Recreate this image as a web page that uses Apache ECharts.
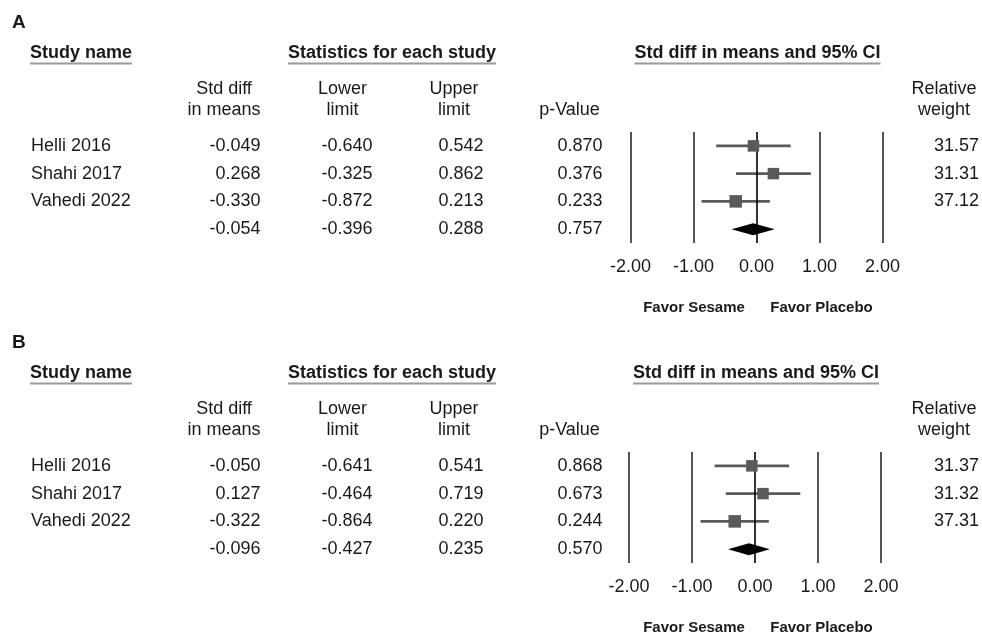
<!DOCTYPE html>
<html>
<head>
<meta charset="utf-8">
<script src="https://cdn.jsdelivr.net/npm/echarts@6/dist/echarts.min.js"></script>
<style>
  html, body { margin: 0; padding: 0; background: #ffffff; }
  #chart { width: 982px; height: 635px; }
</style>
</head>
<body>
<div id="chart"></div>
<script>
// ---- Study data ----
const studies = ['Helli 2016', 'Shahi 2017', 'Vahedi 2022'];

// Panel A
const smdA = [-0.049, 0.268, -0.330];
const lowA = [-0.640, -0.325, -0.872];
const upA = [0.542, 0.862, 0.213];
const pA = [0.870, 0.376, 0.233];
const weightA = [31.57, 31.31, 37.12];
const pooledA = [-0.054, -0.396, 0.288, 0.757]; // smd, lower, upper, p

// Panel B
const smdB = [-0.050, 0.127, -0.322];
const lowB = [-0.641, -0.464, -0.864];
const upB = [0.541, 0.719, 0.220];
const pB = [0.868, 0.673, 0.244];
const weightB = [31.37, 31.32, 37.31];
const pooledB = [-0.096, -0.427, 0.235, 0.570];

const xTicks = [-2, -1, 0, 1, 2];
const favorLabels = ['Favor Sesame', 'Favor Placebo'];

// ---- Styling ----
const FONT = "'Liberation Sans', Arial, Helvetica, sans-serif";
const INK = '#1a1a1a';
const MARK = '#5a5a5a';
const RULE = '#555555';

const panels = [
  { label: 'A', dy: 0, left: 630.5, smd: smdA, low: lowA, up: upA, p: pA, w: weightA, pooled: pooledA },
  { label: 'B', dy: 320, left: 629, smd: smdB, low: lowB, up: upB, p: pB, w: weightB, pooled: pooledB }
];
const PLOT_W = 254;
const PLOT_TOP = 132;
const PLOT_H = 111;

const measureCtx = document.createElement('canvas').getContext('2d');
function textWidth(text, font) {
  measureCtx.font = font;
  return measureCtx.measureText(text).width;
}
const f3 = v => v.toFixed(3);

const chart = echarts.init(document.getElementById('chart'), null, { renderer: 'canvas' });

const grid = [], xAxis = [], yAxis = [], series = [], graphic = [];

panels.forEach((pn, gi) => {
  const top = PLOT_TOP + pn.dy;
  grid.push({ left: pn.left, top: top, width: PLOT_W, height: PLOT_H });

  xAxis.push({
    type: 'value', gridIndex: gi, min: xTicks[0], max: xTicks[xTicks.length - 1], interval: 1,
    axisLine: { show: false }, axisTick: { show: false },
    axisLabel: { show: true, margin: 15, color: INK, fontFamily: FONT, fontSize: 18,
                 formatter: v => v.toFixed(2) },
    splitLine: { show: true, lineStyle: { width: 2, color: [RULE, RULE, 'transparent', RULE, RULE] } }
  });

  // table columns drawn as category axes sharing the forest-plot rows
  const base = yAxis.length;
  const catAxis = (labels, position, align, offset) => ({
    type: 'category', gridIndex: gi, inverse: true, position: position, offset: offset,
    data: labels,
    axisLine: { show: false }, axisTick: { show: false }, splitLine: { show: false },
    axisLabel: { show: true, interval: 0, margin: 0, align: align, color: INK,
                 fontFamily: FONT, fontSize: 18 }
  });

  const plotRight = pn.left + PLOT_W;
  yAxis.push(catAxis(studies.concat(['']), 'left', 'left', pn.left - 31));
  yAxis.push(catAxis(pn.smd.map(f3).concat([f3(pn.pooled[0])]), 'left', 'right', pn.left - 260.5));
  yAxis.push(catAxis(pn.low.map(f3).concat([f3(pn.pooled[1])]), 'left', 'right', pn.left - 372.5));
  yAxis.push(catAxis(pn.up.map(f3).concat([f3(pn.pooled[2])]), 'left', 'right', pn.left - 483.5));
  yAxis.push(catAxis(pn.p.map(f3).concat([f3(pn.pooled[3])]), 'left', 'right', pn.left - 602.5));
  yAxis.push(catAxis(pn.w.map(v => v.toFixed(2)).concat(['']), 'right', 'right', 981 - plotRight));

  // confidence interval whiskers + zero reference line
  series.push({
    type: 'custom', xAxisIndex: gi, yAxisIndex: base, z: 2,
    data: studies.map((s, i) => [pn.smd[i], pn.low[i], pn.up[i], i, pn.w[i]]),
    renderItem: (params, api) => {
      const a = api.coord([api.value(1), api.value(3)]);
      const b = api.coord([api.value(2), api.value(3)]);
      return { type: 'line', shape: { x1: a[0], y1: a[1], x2: b[0], y2: b[1] },
               style: { stroke: MARK, lineWidth: 2.6 } };
    },
    markLine: {
      silent: true, symbol: 'none', label: { show: false },
      lineStyle: { color: '#000000', width: 1.6, type: 'solid' },
      data: [{ xAxis: 0 }]
    }
  });

  // study point estimates, square area follows relative weight
  series.push({
    type: 'custom', xAxisIndex: gi, yAxisIndex: base, z: 6,
    data: studies.map((s, i) => [pn.smd[i], i, pn.w[i]]),
    renderItem: (params, api) => {
      const c = api.coord([api.value(0), api.value(1)]);
      const s = 2.05 * Math.sqrt(api.value(2));
      return { type: 'rect', shape: { x: c[0] - s / 2, y: c[1] - s / 2, width: s, height: s },
               style: { fill: MARK } };
    }
  });

  // pooled estimate diamond
  series.push({
    type: 'custom', xAxisIndex: gi, yAxisIndex: base, z: 6,
    data: [[pn.pooled[0], pn.pooled[1], pn.pooled[2], studies.length]],
    renderItem: (params, api) => {
      const row = api.value(3);
      const c = api.coord([api.value(0), row]);
      const l = api.coord([api.value(1), row]);
      const r = api.coord([api.value(2), row]);
      const h = 6;
      return { type: 'polygon',
               shape: { points: [[l[0], c[1]], [c[0], c[1] - h], [r[0], c[1]], [c[0], c[1] + h]] },
               style: { fill: '#000000' } };
    }
  });

  // ---- headers ----
  const dy = pn.dy;
  const boldFont = 'bold 18px ' + FONT;
  const txt = (text, x, y, align, font) => ({
    type: 'text', x: x, y: y, silent: true,
    style: { text: text, font: font || ('18px ' + FONT), fill: INK, align: align, verticalAlign: 'middle' }
  });
  const underline = (x1, x2, y) => ({
    type: 'line', silent: true, shape: { x1: x1, y1: y, x2: x2, y2: y },
    style: { stroke: '#9a9a9a', lineWidth: 2 }
  });

  graphic.push(txt(pn.label, 12, 23 + dy, 'left', 'bold 19px ' + FONT));

  const heads = [
    { text: 'Study name', x: 30, align: 'left' },
    { text: 'Statistics for each study', x: 288, align: 'left' },
    { text: 'Std diff in means and 95% CI', x: pn.left + PLOT_W / 2, align: 'center' }
  ];
  heads.forEach(hd => {
    graphic.push(txt(hd.text, hd.x, 53 + dy, hd.align, boldFont));
    const w = textWidth(hd.text, boldFont);
    const x1 = hd.align === 'center' ? hd.x - w / 2 : hd.x;
    graphic.push(underline(x1, x1 + w, 63.5 + dy));
  });

  const colHeads = [
    { lines: ['Std diff', 'in means'], x: 224 },
    { lines: ['Lower', 'limit'], x: 342.5 },
    { lines: ['Upper', 'limit'], x: 454 },
    { lines: ['', 'p-Value'], x: 569.5 },
    { lines: ['Relative', 'weight'], x: 944 }
  ];
  colHeads.forEach(ch => {
    if (ch.lines[0]) graphic.push(txt(ch.lines[0], ch.x, 89 + dy, 'center'));
    graphic.push(txt(ch.lines[1], ch.x, 110.5 + dy, 'center'));
  });

  // favour labels under the -1 and +1 ticks
  graphic.push(txt(favorLabels[0], 694, 308 + dy, 'center', 'bold 15px ' + FONT));
  graphic.push(txt(favorLabels[1], 821.5, 308 + dy, 'center', 'bold 15px ' + FONT));
});

chart.setOption({
  backgroundColor: '#ffffff',
  animation: false,
  grid: grid,
  xAxis: xAxis,
  yAxis: yAxis,
  series: series,
  graphic: graphic
});
</script>
</body>
</html>
